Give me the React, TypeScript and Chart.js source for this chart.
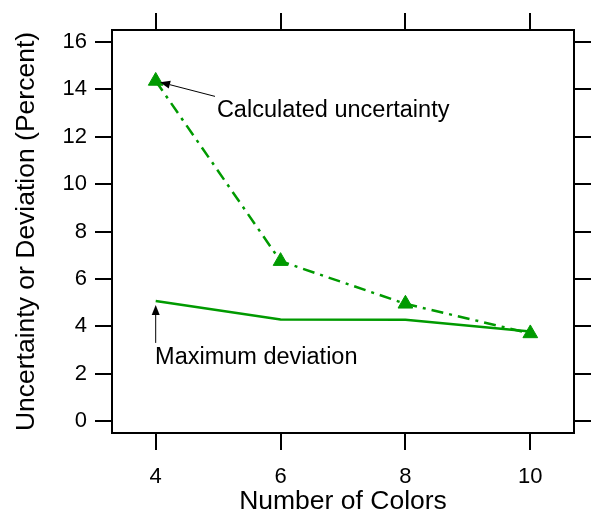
import React, { useEffect, useRef } from "react";
import { Chart, registerables } from "chart.js";

Chart.register(...registerables);

const COLORS_X = [4, 6, 8, 10];
const CALCULATED_UNCERTAINTY = [14.35, 6.75, 4.95, 3.7];
const MAXIMUM_DEVIATION = [5.07, 4.29, 4.28, 3.78];
const X_TICKS = [4, 6, 8, 10];
const Y_TICKS = [0, 2, 4, 6, 8, 10, 12, 14, 16];

const X_TITLE = "Number of Colors";
const Y_TITLE = "Uncertainty or Deviation (Percent)";

const ANNOT_CALC = { text: "Calculated uncertainty", tx: 4.98, ty: 13.12, fx: 4.95, fy: 13.7, ax: 4.07, ay: 14.3 };
const ANNOT_MAX = { text: "Maximum deviation", tx: 3.99, ty: 2.68, fx: 4.0, fy: 3.3, ax: 4.0, ay: 4.9 };

const GREEN = "#009a00";
const FONT = "'Liberation Sans', Arial, Helvetica, sans-serif";

const annotationPlugin = {
  id: "annots",
  afterDatasetsDraw(chart: any) {
    const { ctx } = chart;
    const xs = chart.scales.x;
    const ys = chart.scales.y;
    const draw = (a: any) => {
      const fx = xs.getPixelForValue(a.fx), fy = ys.getPixelForValue(a.fy);
      const tx = xs.getPixelForValue(a.ax), ty = ys.getPixelForValue(a.ay);
      ctx.save();
      ctx.strokeStyle = "#000";
      ctx.fillStyle = "#000";
      ctx.lineWidth = 1;
      const ang = Math.atan2(ty - fy, tx - fx);
      const hl = 10, hw = 4;
      const bx = tx - Math.cos(ang) * hl, by = ty - Math.sin(ang) * hl;
      ctx.beginPath();
      ctx.moveTo(fx, fy);
      ctx.lineTo(bx, by);
      ctx.stroke();
      ctx.beginPath();
      ctx.moveTo(tx, ty);
      ctx.lineTo(bx + Math.sin(ang) * hw, by - Math.cos(ang) * hw);
      ctx.lineTo(bx - Math.sin(ang) * hw, by + Math.cos(ang) * hw);
      ctx.closePath();
      ctx.fill();
      ctx.font = `23.5px ${FONT}`;
      ctx.textAlign = "left";
      ctx.textBaseline = "middle";
      ctx.fillText(a.text, xs.getPixelForValue(a.tx), ys.getPixelForValue(a.ty));
      ctx.restore();
    };
    draw(ANNOT_CALC);
    draw(ANNOT_MAX);
  },
};

export default function App() {
  const ref = useRef<HTMLCanvasElement>(null);
  useEffect(() => {
    if (!ref.current) return;
    const axisCommon = {
      grid: { drawOnChartArea: false, drawTicks: true, tickLength: 17, tickWidth: 2, tickColor: "#000", lineWidth: 2, color: "#000" },
      border: { display: true, color: "#000", width: 2 },
    };
    const chart = new Chart(ref.current, {
      type: "line",
      data: {
        datasets: [
          {
            label: "Calculated uncertainty",
            data: COLORS_X.map((x, i) => ({ x, y: CALCULATED_UNCERTAINTY[i] })),
            borderColor: GREEN,
            backgroundColor: GREEN,
            borderWidth: 2.5,
            borderDash: [12, 6, 3, 6],
            pointStyle: "triangle",
            pointRadius: 8.5,
            pointBorderWidth: 1,
            pointBackgroundColor: GREEN,
            pointBorderColor: GREEN,
            tension: 0,
          },
          {
            label: "Maximum deviation",
            data: COLORS_X.map((x, i) => ({ x, y: MAXIMUM_DEVIATION[i] })),
            borderColor: GREEN,
            backgroundColor: GREEN,
            borderWidth: 2.5,
            pointRadius: 0,
            tension: 0,
          },
        ],
      },
      options: {
        animation: false,
        responsive: false,
        layout: { padding: 0 },
        plugins: { legend: { display: false }, tooltip: { enabled: false } },
        scales: {
          x: {
            type: "linear",
            position: "bottom",
            min: 3.3,
            max: 10.7,
            ...axisCommon,
            afterBuildTicks: (s: any) => { s.ticks = X_TICKS.map((v) => ({ value: v })); },
            afterFit: (s: any) => { s.height = 82; },
            ticks: { color: "#000", font: { family: FONT, size: 22 }, padding: 14, maxRotation: 0, autoSkip: false },
            title: { display: true, text: X_TITLE, color: "#000", font: { family: FONT, size: 26.5, lineHeight: 1 }, padding: { top: 0, bottom: 0 } },
          },
          x2: {
            type: "linear",
            position: "top",
            min: 3.3,
            max: 10.7,
            ...axisCommon,
            afterBuildTicks: (s: any) => { s.ticks = X_TICKS.map((v) => ({ value: v })); },
            afterFit: (s: any) => { s.height = 30; },
            ticks: { display: false },
          },
          y: {
            type: "linear",
            position: "left",
            min: -0.5,
            max: 16.5,
            ...axisCommon,
            afterBuildTicks: (s: any) => { s.ticks = Y_TICKS.map((v) => ({ value: v })); },
            afterFit: (s: any) => { s.width = 112; },
            ticks: { color: "#000", font: { family: FONT, size: 22 }, padding: 8, autoSkip: false },
            title: { display: true, text: Y_TITLE, color: "#000", font: { family: FONT, size: 26.5, lineHeight: 1 }, padding: { top: 13.5, bottom: 0 } },
          },
          y2: {
            type: "linear",
            position: "right",
            min: -0.5,
            max: 16.5,
            ...axisCommon,
            afterBuildTicks: (s: any) => { s.ticks = Y_TICKS.map((v) => ({ value: v })); },
            afterFit: (s: any) => { s.width = 21; },
            ticks: { display: false },
          },
        },
      },
      plugins: [annotationPlugin],
    });
    return () => chart.destroy();
  }, []);
  return (
    <div style={{ position: "absolute", left: 0, top: 0, width: 595, height: 515, background: "#fff" }}>
      <canvas ref={ref} width={595} height={515} />
    </div>
  );
}
